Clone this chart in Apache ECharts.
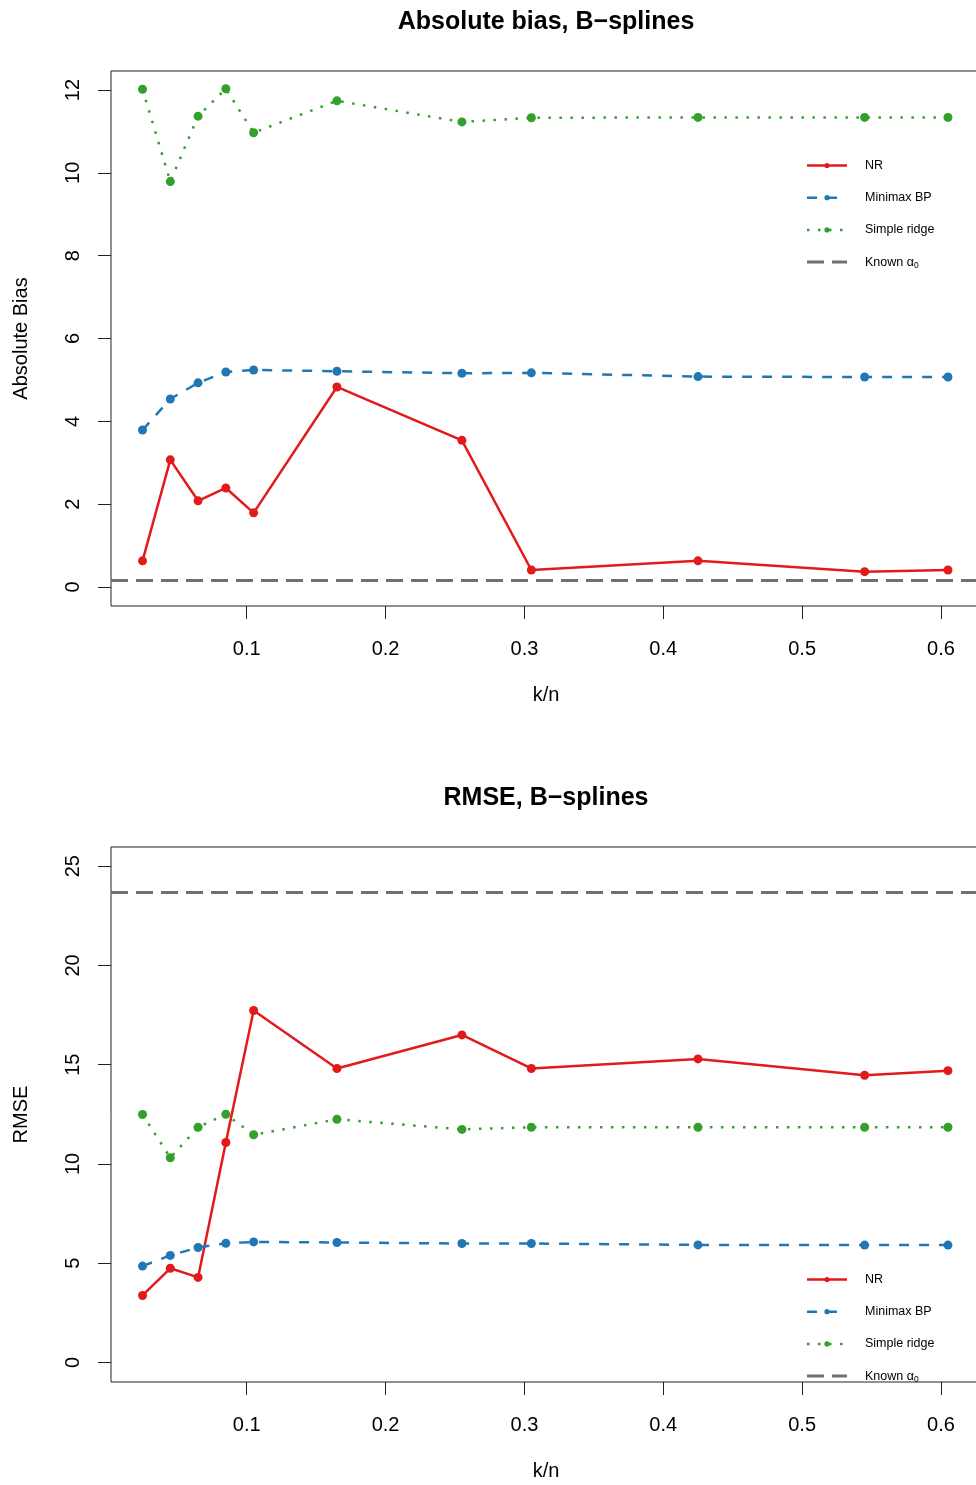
<!DOCTYPE html>
<html>
<head>
<meta charset="utf-8">
<script src="https://cdn.jsdelivr.net/npm/echarts@6/dist/echarts.min.js"></script>
<style>
  html, body { margin: 0; padding: 0; background: #fff; }
  #chart { width: 976px; height: 1485px; }
</style>
</head>
<body>
<div id="chart"></div>
<script>
// k/n grid shared by both panels
const kn = [0.025, 0.045, 0.065, 0.085, 0.105, 0.165, 0.255, 0.305, 0.425, 0.545, 0.605];

// Absolute bias
const biasNR      = [0.63, 3.07, 2.08, 2.39, 1.79, 4.83, 3.54, 0.41, 0.63, 0.37, 0.41];
const biasMinimax = [3.79, 4.54, 4.93, 5.19, 5.24, 5.21, 5.16, 5.17, 5.08, 5.07, 5.07];
const biasRidge   = [12.02, 9.79, 11.37, 12.03, 10.97, 11.74, 11.23, 11.33, 11.34, 11.34, 11.34];
const biasKnown   = 0.16;

// RMSE
const rmseNR      = [3.37, 4.74, 4.28, 11.08, 17.73, 14.81, 16.50, 14.81, 15.29, 14.47, 14.70];
const rmseMinimax = [4.85, 5.39, 5.79, 6.00, 6.07, 6.04, 5.99, 5.99, 5.92, 5.91, 5.91];
const rmseRidge   = [12.49, 10.31, 11.85, 12.50, 11.47, 12.25, 11.74, 11.85, 11.85, 11.85, 11.85];
const rmseKnown   = 23.68;

// tick labels
const xTicks    = [0.1, 0.2, 0.3, 0.4, 0.5, 0.6];
const biasTicks = [0, 2, 4, 6, 8, 10, 12];
const rmseTicks = [0, 5, 10, 15, 20, 25];

const seriesNames = ['NR', 'Minimax BP', 'Simple ridge'];

const FONT = '"Liberation Sans", Arial, Helvetica, sans-serif';
const RED = '#E31A1C', BLUE = '#1F78B4', GREEN = '#33A02C', GREY = '#707070';
const AXIS = '#222';

const styles = {
  'NR':           { color: RED,   dash: 'solid' },
  'Minimax BP':   { color: BLUE,  dash: [10, 10] },
  'Simple ridge': { color: GREEN, dash: [2.5, 8.5] }
};
const KNOWN_DASH = [17, 8];

const pair = (xs, ys) => xs.map((x, i) => [x, ys[i]]);

const PLOT_LEFT = 111, PLOT_W = 870, PLOT_H = 535;
const panels = [
  { top: 71,  title: 'Absolute bias, B\u2212splines', yname: 'Absolute Bias',
    ymin: -0.46, ymax: 12.46, ticks: biasTicks,
    data: [biasNR, biasMinimax, biasRidge], known: biasKnown, legendTop: 165.5 },
  { top: 847, title: 'RMSE, B\u2212splines', yname: 'RMSE',
    ymin: -0.99, ymax: 25.97, ticks: rmseTicks,
    data: [rmseNR, rmseMinimax, rmseRidge], known: rmseKnown, legendTop: 1279.5 }
];

const grid = [], xAxis = [], yAxis = [], series = [], title = [], graphic = [];

panels.forEach((p, gi) => {
  // the plot box runs a little past the right edge of the page
  grid.push({
    left: PLOT_LEFT, top: p.top, width: PLOT_W, height: PLOT_H,
    outerBoundsMode: 'none', containLabel: false,
    show: true, borderColor: AXIS, borderWidth: 1, backgroundColor: 'transparent'
  });
  title.push({
    text: p.title, left: 546, top: p.top - 61.5, textAlign: 'center', padding: 0,
    textStyle: { fontFamily: FONT, fontSize: 25, fontWeight: 'bold', color: '#000' }
  });
  xAxis.push({
    gridIndex: gi, type: 'value', min: 0.0023, max: 0.6288,
    axisLine: { show: false, onZero: false },
    splitLine: { show: false },
    axisTick: { show: true, customValues: xTicks, length: 13, lineStyle: { color: AXIS, width: 1 } },
    axisLabel: { customValues: xTicks, margin: 33, fontSize: 20, color: '#000', fontFamily: FONT,
                 formatter: v => String(v) },
    name: 'k/n', nameLocation: 'middle', nameGap: 79,
    nameTextStyle: { fontFamily: FONT, fontSize: 20, color: '#000' }
  });
  yAxis.push({
    gridIndex: gi, type: 'value', min: p.ymin, max: p.ymax,
    axisLine: { show: false, onZero: false },
    splitLine: { show: false },
    axisTick: { show: true, customValues: p.ticks, length: 13, lineStyle: { color: AXIS, width: 1 } },
    axisLabel: { customValues: p.ticks, rotate: 90, margin: 28, fontSize: 20, color: '#000', fontFamily: FONT },
    name: p.yname, nameLocation: 'middle', nameGap: 80,
    nameTextStyle: { fontFamily: FONT, fontSize: 20, color: '#000' }
  });

  seriesNames.forEach((name, si) => {
    const st = styles[name];
    const s = {
      name: name, type: 'line', xAxisIndex: gi, yAxisIndex: gi,
      data: pair(kn, p.data[si]),
      symbol: 'circle', symbolSize: 9, showSymbol: true,
      itemStyle: { color: st.color },
      lineStyle: { color: st.color, width: 2.5, type: st.dash },
      z: 3 + si, silent: true
    };
    if (si === 0) {
      // reference level for the known alpha_0
      s.markLine = {
        silent: true, symbol: 'none', animation: false,
        label: { show: false },
        lineStyle: { color: GREY, width: 3, type: KNOWN_DASH },
        data: [{ yAxis: p.known }]
      };
    }
    series.push(s);
  });

  // legend block
  const rows = [
    { label: 'NR', color: RED, dash: 'solid', width: 2.5, dot: true },
    { label: 'Minimax BP', color: BLUE, dash: [10, 10], width: 2.5, dot: true },
    { label: 'Simple ridge', color: GREEN, dash: [2.5, 8.5], width: 2.5, dot: true },
    { label: 'Known \u03b1{s|0}', color: GREY, dash: KNOWN_DASH, width: 3, dot: false }
  ];
  rows.forEach((r, i) => {
    const y = p.legendTop + i * 32.2;
    graphic.push({
      type: 'line', silent: true,
      shape: { x1: 807, y1: y, x2: 847, y2: y },
      style: { stroke: r.color, lineWidth: r.width, lineDash: r.dash === 'solid' ? null : r.dash }
    });
    if (r.dot) {
      graphic.push({
        type: 'circle', silent: true,
        shape: { cx: 827, cy: y, r: 2.6 },
        style: { fill: r.color }
      });
    }
    graphic.push({
      type: 'text', silent: true, x: 865, y: y,
      style: {
        text: r.label, fill: '#000', font: '12.5px ' + FONT,
        verticalAlign: 'middle', align: 'left',
        rich: { s: { fontSize: 8.5, fontFamily: FONT, fill: '#000', padding: [7, 0, 0, 0] } }
      }
    });
  });
});

const chart = echarts.init(document.getElementById('chart'), null, { renderer: 'canvas' });
chart.setOption({
  animation: false,
  backgroundColor: '#fff',
  title, grid, xAxis, yAxis, series, graphic
});
</script>
</body>
</html>
